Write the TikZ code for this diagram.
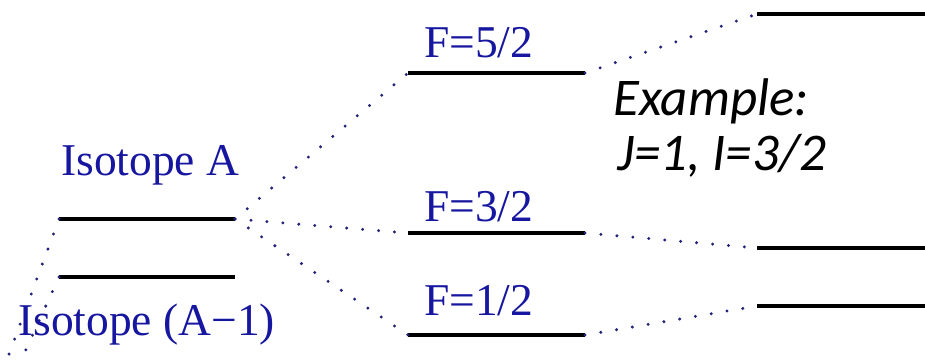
\documentclass[tikz,border=0pt]{standalone}
\usepackage{fontspec}
\setmainfont{Liberation Serif}
\newfontfamily\examplefont{Carlito}
\definecolor{levelblue}{RGB}{22,22,160}
\definecolor{dotblue}{RGB}{35,35,120}
\tikzset{
    lvl/.style={line width=3.4pt},
    hfdots/.style={dotblue, line width=3.3pt, line cap=round, dash pattern=on 0pt off 16pt},
    lbl/.style={levelblue, anchor=base west, inner sep=0pt, font=\fontsize{45.5}{50}\selectfont},
    note/.style={anchor=base west, inner sep=0pt, font=\examplefont\itshape\fontsize{53}{60}\selectfont}
}
\begin{document}
\begin{tikzpicture}[x=1pt,y=1pt]
    \useasboundingbox (0,0) rectangle (925,-361);
    % isotope levels
    \coordinate (isoAL) at (59,-219);   \coordinate (isoAR) at (235,-219);
    \coordinate (isoBL) at (59,-277);   \coordinate (isoBR) at (235,-277);
    % hyperfine levels F
    \coordinate (f5L) at (408,-73);     \coordinate (f5R) at (585,-73);
    \coordinate (f3L) at (408,-233);    \coordinate (f3R) at (585,-233);
    \coordinate (f1L) at (408,-335);    \coordinate (f1R) at (585,-335);
    % shifted levels on the right
    \coordinate (r5L) at (757,-14);     \coordinate (r5R) at (925,-14);
    \coordinate (r3L) at (757,-248);    \coordinate (r3R) at (925,-248);
    \coordinate (r1L) at (757,-306);    \coordinate (r1R) at (925,-306);
    % free ends off the page
    \coordinate (downA) at (5,-365);
    \coordinate (downB) at (19,-365);

    \foreach \l in {isoA,isoB,f5,f3,f1,r5,r3,r1}
        \draw[lvl] (\l L) -- (\l R);

    \draw[hfdots] (isoAL) -- (downA);
    \draw[hfdots] (isoBL) -- (downB);
    \draw[hfdots] (isoAR) -- (f5L);
    \draw[hfdots] (isoAR) -- (f3L);
    \draw[hfdots] (isoAR) -- (f1L);
    \draw[hfdots] (f5R) -- (r5L);
    \draw[hfdots] (f3R) -- (r3L);
    \draw[hfdots] (f1R) -- (r1L);

    \node[lbl] (labA) at (61,-175) {Isotope A};
    \node[lbl] (labB) at (18,-335) {Isotope (A−1)};
    \node[lbl] (labF5) at (424,-57) {F=5/2};
    \node[lbl] (labF3) at (424,-221) {F=3/2};
    \node[lbl] (labF1) at (424,-315) {F=1/2};
    \node[note] (ex1) at (613,-115) {Example:};
    \node[note] (ex2) at (617,-170) {J=1, I=3/2};
\end{tikzpicture}
\end{document}
